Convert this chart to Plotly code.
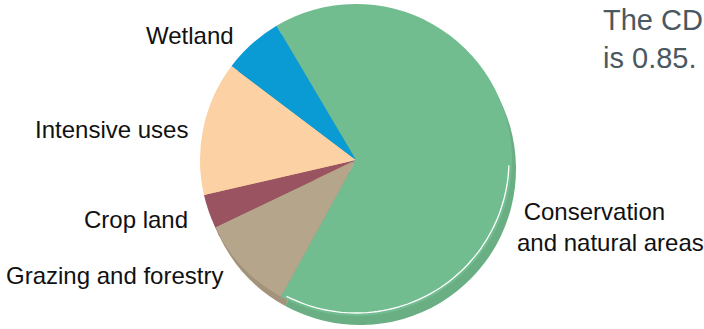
import numpy as np
import plotly.graph_objects as go

categories = ["Conservation and natural areas", "Grazing and forestry", "Crop land", "Intensive uses", "Wetland"]
shares = [66.5, 9.9, 3.5, 13.9, 6.2]
colors = ["#72bd8f", "#b5a58a", "#9a5361", "#fcd1a3", "#0a9ad4"]
shadow_colors = ["#6aae83", "#a2937a", "#8a4a56", "#e8bf94", "#0988bb"]
note_lines = ["The CD", "is 0.85."]

W, H = 704, 329
cx, cy, r = 356, 160, 156
dx, dy = 4, 9

def dom(x0, y0, rad):
    return dict(x=[max(0, (x0 - rad) / W), min(1, (x0 + rad) / W)],
                y=[max(0, 1 - (y0 + rad) / H), min(1, 1 - (y0 - rad) / H)])

def px(x):
    return x / W

def py(y):
    return 1 - y / H

fig = go.Figure()
fig.add_trace(go.Pie(labels=categories, values=shares, sort=False, direction="clockwise",
                     rotation=-30.6, marker=dict(colors=shadow_colors, line=dict(width=0)),
                     textinfo="none", hoverinfo="skip", showlegend=False,
                     domain=dom(cx + dx, cy + dy, r)))
fig.add_trace(go.Pie(labels=categories, values=shares, sort=False, direction="clockwise",
                     rotation=-30.6, marker=dict(colors=colors, line=dict(width=0)),
                     textinfo="none", showlegend=False,
                     domain=dom(cx, cy, r)))

# white highlight arc along lower-right edge
ang = np.radians(np.linspace(92, 207, 60))
rr = r - 3
pts = [(rr * np.sin(a), rr * np.cos(a)) for a in ang]
path = "M " + " L ".join(f"{a:.1f},{b:.1f}" for a, b in pts)
fig.add_shape(type="path", xref="paper", yref="paper", xsizemode="pixel", ysizemode="pixel",
              xanchor=cx / W, yanchor=1 - cy / H, path=path,
              line=dict(color="white", width=1.3))

font = dict(family="Liberation Sans, Arial, sans-serif", size=24, color="#111111")
labels_pos = [
    ("Wetland", 236, 35, "right"),
    ("Intensive uses", 190, 129, "right"),
    ("Crop land", 190, 219, "right"),
    ("Grazing and forestry", 225, 275, "right"),
]
for txt, x, y, anc in labels_pos:
    fig.add_annotation(text=txt, x=px(x), y=py(y), xref="paper", yref="paper",
                       xanchor=anc, yanchor="middle", showarrow=False, font=font)
fig.add_annotation(text="\u00a0Conservation<br>and natural areas", x=px(515), y=py(227),
                   xref="paper", yref="paper", xanchor="left", yanchor="middle", align="left",
                   showarrow=False, font=font)

fig.add_annotation(text="<br>".join(note_lines), x=px(601), y=py(2), xref="paper", yref="paper",
                   xanchor="left", yanchor="top", align="left", showarrow=False,
                   font=dict(family="Liberation Sans, Arial, sans-serif", size=29, color="#4a5861"))

fig.update_layout(width=W, height=H, margin=dict(l=0, r=0, t=0, b=0),
                  paper_bgcolor="white", plot_bgcolor="white")
fig.write_html("out.html", config={"displayModeBar": False},
               post_script="document.body.style.margin='0';document.body.style.overflow='hidden';")
